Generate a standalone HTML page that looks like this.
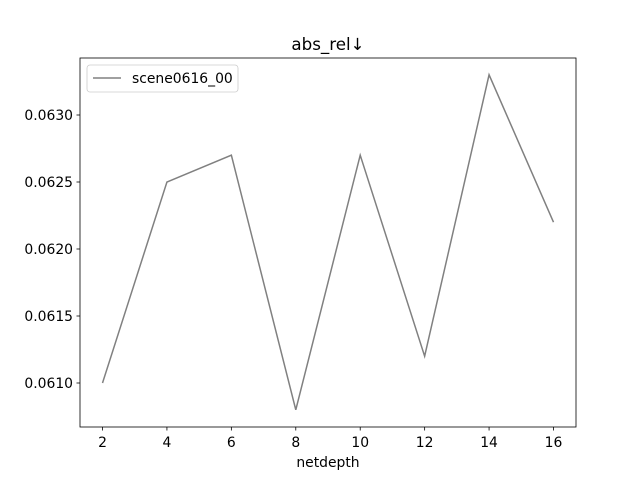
<!DOCTYPE html>
<html><head><meta charset="utf-8"><style>
body{margin:0;background:#fff;}
svg text{font-family:"DejaVu Sans","Liberation Sans",sans-serif;}
</style></head><body>
<svg id="chart" width="640" height="480" xmlns="http://www.w3.org/2000/svg">
<rect width="640" height="480" fill="#fff"/>
<text x="328" y="50" font-size="16.7" text-anchor="middle">abs_rel↓</text>
<g id="axes"></g>
<rect x="80" y="58" width="496" height="369" fill="none" stroke="#000" stroke-width="0.8"/>
<text x="328" y="467" font-size="13.9" text-anchor="middle">netdepth</text>
<g>
<rect x="87" y="65" width="151" height="27" rx="3" fill="#fff" stroke="#ccc" stroke-width="0.8"/>
<line x1="93" y1="78" x2="121" y2="78" stroke="#808080" stroke-width="1.5"/>
<text x="132" y="83" font-size="13.9">scene0616_00</text>
</g>
</svg>
<script>
const categories=[2,4,6,8,10,12,14,16];
const values=[0.0610,0.0625,0.0627,0.0608,0.0627,0.0612,0.0633,0.0622];
const xTicks=[2,4,6,8,10,12,14,16];
const yTicks=[0.0610,0.0615,0.0620,0.0625,0.0630];
const yTickLabels=["0.0610","0.0615","0.0620","0.0625","0.0630"];
const ns="http://www.w3.org/2000/svg";
const g=document.getElementById('axes');
const xs=v=>102.5+(v-2)*(451/14);
const ys=v=>383-(v-0.0610)*134000;
function mk(t,a){const e=document.createElementNS(ns,t);for(const k in a)e.setAttribute(k,a[k]);g.appendChild(e);return e;}
xTicks.forEach(t=>{
 const l=mk('line',{x1:xs(t),x2:xs(t),y1:427,y2:430.5,stroke:'#000','stroke-width':0.8});
 
 
 const tx=mk('text',{x:xs(t),y:447,'font-size':13.9,'text-anchor':'middle'});tx.textContent=t;
 
 
});
yTicks.forEach((t,i)=>{
 const l=mk('line',{x1:76.5,x2:80,y1:ys(t),y2:ys(t),stroke:'#000','stroke-width':0.8});
 
 
 const tx=mk('text',{x:73,y:ys(t)+5,'font-size':13.9,'text-anchor':'end'});tx.textContent=yTickLabels[i];
 
 
});
const p=mk('polyline',{points:categories.map((c,i)=>xs(c)+','+ys(values[i])).join(' '),fill:'none',stroke:'#808080','stroke-width':1.5});


</script>
</body></html>
